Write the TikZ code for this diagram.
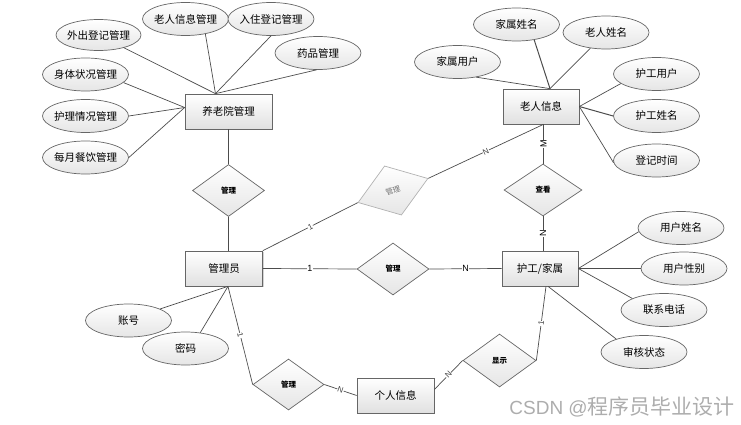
\documentclass[tikz,border=0pt]{standalone}
\usepackage{fontspec}
\setmainfont{Noto Sans CJK SC}
\newfontfamily\lat{Liberation Sans}
\usetikzlibrary{shapes.geometric,shadows,calc}
\newcommand\zb[1]{\makebox[0pt]{#1}}
\begin{document}
\begin{tikzpicture}[x=1pt,y=-1pt,
 line/.style={draw=black!70, line width=0.7pt},
 ent/.style={rectangle, draw=black!60, line width=0.7pt, top color=white, bottom color=black!12,
   minimum width=77pt, minimum height=35pt, inner sep=0pt, font=\fontsize{10.5}{12}\selectfont,
   drop shadow={shadow xshift=1.2pt, shadow yshift=-1.2pt, opacity=0.35, fill=black!50}},
 attr/.style={ellipse, draw=black!60, line width=0.7pt, top color=white, bottom color=black!10,
   minimum width=86pt, minimum height=33pt, inner sep=0pt, font=\fontsize{10.5}{12}\selectfont},
 rel/.style={diamond, draw=black!60, line width=0.7pt, top color=white, bottom color=black!10,
   minimum width=72pt, minimum height=52pt, inner sep=0pt, font=\fontsize{7.5}{9}\selectfont\bfseries},
 card/.style={fill=white, inner sep=0.6pt, font=\lat\fontsize{9}{10}\selectfont},
 scard/.style={fill=white, inner sep=0.4pt, font=\lat\fontsize{8}{9}\selectfont, text=black!75},
]
\useasboundingbox (0,0) rectangle (741,425);
% entities and attributes
\node[ent, minimum width=87pt] (yl) at (228.5,111.5) {养老院管理};
\node[attr, minimum width=85pt, minimum height=31pt] (e1) at (98.5,35) {\zb{外出登记管理}};
\node[attr] (e2) at (185.5,19) {\zb{老人信息管理}};
\node[attr] (e3) at (271,19) {\zb{入住登记管理}};
\node[attr] (e4) at (318,53) {\zb{药品管理}};
\node[attr] (e5) at (85.5,74.5) {\zb{身体状况管理}};
\node[attr] (e6) at (85.5,116) {\zb{护理情况管理}};
\node[attr] (e7) at (85.5,157.5) {\zb{每月餐饮管理}};
\node[rel] (d1) at (228.5,190.5) {\zb{管理}};
\node[ent] (gly) at (224,268.5) {管理员};
\node[attr] (e8) at (128.5,320.5) {\zb{账号}};
\node[attr] (e9) at (185.5,348.5) {\zb{密码}};
\node[rel, minimum width=71pt, minimum height=51pt] (d2) at (288.5,384.5) {\zb{管理}};
\node[ent] (gr) at (395.5,395.5) {个人信息};
\node[rel, minimum width=73pt, minimum height=53pt] (d3) at (499.5,360.5) {\zb{显示}};
\node[ent, minimum width=76pt] (hg) at (540,268.5) {护工/家属};
\node[rel] (d4) at (393,269) {\zb{管理}};
\node[attr] (e10) at (681,228) {\zb{用户姓名}};
\node[attr] (e11) at (684,268.5) {\zb{用户性别}};
\node[attr] (e12) at (664,310) {\zb{联系电话}};
\node[attr] (e13) at (644,352) {\zb{审核状态}};
\node[rel, minimum width=78pt] (d5) at (543,190) {\zb{查看}};
\node[ent, minimum width=76pt] (lr) at (541,106.5) {老人信息};
\node[attr] (e14) at (516.5,24.5) {\zb{家属姓名}};
\node[attr] (e15) at (606,32.5) {\zb{老人姓名}};
\node[attr] (e16) at (457.5,62) {\zb{家属用户}};
\node[attr] (e17) at (656.5,74) {\zb{护工用户}};
\node[attr] (e18) at (656.5,116) {\zb{护工姓名}};
\node[attr] (e19) at (656.5,160.5) {\zb{登记时间}};
\node[rel, rotate=19, minimum width=74pt, draw=black!30, text=black!55,
  font=\fontsize{7.5}{9}\selectfont] (d6) at (393,190.5) {\zb{管理}};
% helper points
\coordinate (p1) at ($(yl.north)+(-13,0)$);
\coordinate (p2) at ($(yl.west)+(0,-4)$);
\coordinate (p3) at ($(lr.south)+(2.5,0)$);
\coordinate (p6) at ($(lr.north)+(9,0)$);
\coordinate (p5) at ($(gly.south)+(4,0)$);
\coordinate (p7) at ($(hg.south)+(8,0)$);
\coordinate (p8) at ($(hg.south)+(6,0)$);
\coordinate (p9) at ($(gr.east)+(0,-6)$);
% connectors
\draw[line] (e1) -- (p1);
\draw[line] (e2.-37) -- (p1);
\draw[line] (e3.south) -- (p1);
\draw[line] (e4.-95) -- (p1);
\draw[line] (e5.-12) -- (p2);
\draw[line] (e6.east) -- (p2);
\draw[line] (e7.east) -- (p2);
\draw[line] (yl.south) -- (yl.south |- d1.north);
\draw[line] (d1.south) -- (d1.south |- gly.north);
\draw[line] (e8.20) -- (p5);
\draw[line] (e9.47) -- (p5);
\draw[line] (p5) -- (d2.west) node[scard, sloped, pos=0.5] {1};
\draw[line] (d2.east) -- (gr.west) node[scard, sloped, pos=0.5] {N};
\draw[line] (p9) -- (d3.west) node[scard, sloped, pos=0.5] {N};
\draw[line] (d3.east) -- (p8) node[scard, sloped, pos=0.5] {1};
\draw[line] (gly.east) -- (d4.west) node[card, pos=0.5] {1};
\draw[line] (d4.east) -- (hg.west) node[card, pos=0.5] {N};
\draw[line] (gly.north east) -- (d6.west) node[scard, sloped, pos=0.5] {1};
\draw[line] (d6.east) -- (p3) node[scard, sloped, pos=0.5] {N};
\draw[line] (p3) -- (p3 |- d5.north) node[card, rotate=90, pos=0.5] {M};
\draw[line] (d5.south) -- (d5.south |- hg.north) node[card, rotate=90, pos=0.5] {N};
\draw[line] (hg.east) -- (e10.185);
\draw[line] (hg.east) -- (e11.west);
\draw[line] (hg.east) -- (e12.160);
\draw[line] (p7) -- (e13.155);
\draw[line, line width=1pt] (e14.-41) -- (p6);
\draw[line] (e15) -- (p6);
\draw[line] (e16.-39) -- (p6);
\draw[line] (lr.east) -- (e17.-165);
\draw[line, line width=1pt] (lr.east) -- (e18.west);
\draw[line] (lr.east) -- (e19.183);
% watermark
\node[anchor=east, text=black!32, inner sep=0pt] (wm) at (735,407)
  {{\lat\fontsize{19}{21}\selectfont CSDN @}{\fontsize{21}{23}\selectfont 程序员毕业设计}};
\end{tikzpicture}
\end{document}
